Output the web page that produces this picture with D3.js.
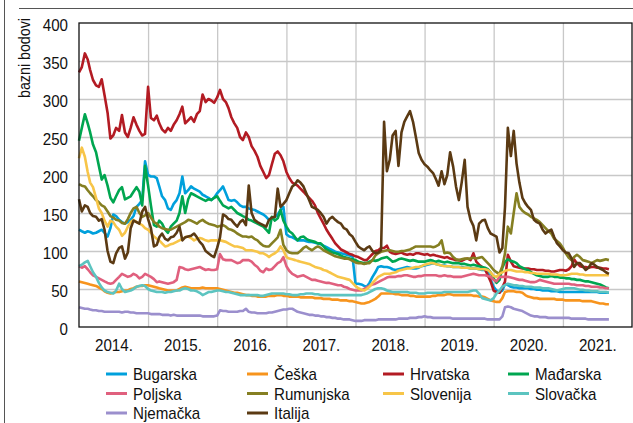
<!DOCTYPE HTML>
<html lang="hr">
<head>
<meta charset="UTF-8">
<title>Razlike prinosa - bazni bodovi</title>
<script src="https://d3js.org/d3.v7.min.js"></script>
<style>
    body { margin: 0; background: #fff; }
    text { font-family: "Liberation Sans", Arial, sans-serif; fill: #111; }
    .grid line { stroke: #c8c8c8; stroke-width: 1.3; }
    .grid path { display: none; }
    .series { fill: none; stroke-width: 2.6; stroke-linejoin: round; }
</style>
</head>
<body>
<svg width="633" height="423"></svg>
<script>
// country names (legend order)
var countries = ["Bugarska", "Češka", "Hrvatska", "Mađarska", "Poljska", "Rumunjska", "Slovenija", "Slovačka", "Njemačka", "Italija"];
var colors = ["#00a0dc", "#f7941d", "#b31b23", "#00a650", "#e0607e", "#857f22", "#f7c548", "#5cc4c0", "#9b8fcd", "#5b3a13"];
var yTicks = [0, 50, 100, 150, 200, 250, 300, 350, 400];
var yearLabels = [2014, 2015, 2016, 2017, 2018, 2019, 2020, 2021];

// observations on the 1st and 16th of every month, Jan 2014 - Aug 2021
var dates = d3.range(185).map(function(i) { return new Date(2014, Math.floor(i / 2), i % 2 ? 16 : 1); });

var bugarska = [128,126,124,126,125,123,124,126,128,124,119,130,
148,146,141,138,136,138,141,146,158,162,167,218,
200,198,198,196,185,172,167,156,154,162,167,176,
198,176,180,185,182,180,178,174,172,170,167,170,
176,180,185,176,167,166,167,164,160,158,158,156,
155,154,152,150,148,145,141,143,145,148,154,158,
122,119,118,116,114,114,114,113,112,112,111,110,
109,107,105,103,101,99,98,97,96,95,94,93,
57,57,56,54,53,58,66,72,79,80,79,79,
78,76,75,76,77,78,79,78,77,77,78,80,
81,82,83,84,83,82,81,81,80,80,79,79,
79,79,78,78,77,77,77,76,75,75,72,62,
53,48,46,48,57,55,53,52,52,51,51,51,
51,50,50,49,49,48,48,48,47,47,47,46,
46,46,46,46,46,46,46,46,46,46,46,46,
46,45,45,45,45];

var ceska = [60,59,58,57,56,55,54,52,50,47,45,44,
45,46,46,47,48,48,50,51,53,54,54,55,
55,54,53,52,51,50,49,48,48,48,48,50,
52,53,52,51,51,51,51,52,51,51,51,51,
51,50,49,48,47,46,45,45,44,43,42,42,
41,41,40,40,40,40,41,41,41,42,42,41,
41,40,40,40,40,39,39,39,39,39,38,38,
38,37,37,37,36,36,36,35,35,35,34,34,
33,32,31,31,32,33,35,37,40,44,44,44,
44,44,43,43,42,42,42,41,41,40,40,40,
40,40,40,41,41,42,42,42,43,43,42,42,
42,42,42,42,42,41,41,40,40,39,37,35,
34,33,33,38,46,47,47,47,46,46,45,42,
40,39,38,38,37,37,37,37,37,37,36,36,
36,35,35,35,35,35,35,34,34,34,34,33,
32,31,31,30,30];

var hrvatska = [335,342,360,352,338,325,318,316,326,305,282,248,
252,262,258,279,256,250,262,276,266,258,252,254,
316,275,272,278,268,260,256,262,258,266,272,280,
290,268,272,276,270,280,284,306,296,300,298,295,
302,312,300,296,288,276,268,262,250,246,256,250,
238,232,224,212,204,196,200,214,228,231,226,218,
204,196,190,188,186,182,178,174,170,166,160,150,
143,136,128,122,116,110,106,102,100,98,96,95,
93,92,90,88,88,92,96,100,101,104,104,107,
99,97,96,97,98,96,95,96,95,97,97,96,
95,96,94,95,94,93,92,91,92,90,89,88,
88,87,89,90,88,97,86,82,79,76,68,60,
48,46,45,52,60,95,86,80,79,78,77,77,
77,76,76,75,75,75,74,74,73,73,74,75,
75,74,76,80,89,84,80,79,79,78,79,79,
78,78,77,77,76];

var madarska = [245,262,280,268,256,240,230,212,194,200,186,170,
164,172,180,184,168,170,172,178,184,178,160,212,
186,160,134,132,140,136,128,124,132,136,140,150,
172,150,168,176,174,172,170,168,166,168,167,170,
172,166,160,158,156,158,154,150,148,146,144,141,
140,138,136,134,132,128,124,145,140,143,154,140,
132,126,123,118,114,118,119,116,114,113,112,110,
110,106,102,100,98,97,96,94,92,91,90,89,
88,86,85,84,84,86,88,87,88,90,91,92,
89,86,87,89,90,89,88,87,88,87,86,86,
86,87,88,87,86,87,86,85,86,85,84,84,
84,83,83,82,81,82,81,80,79,78,76,72,
64,58,62,78,86,89,87,86,84,80,78,76,
75,72,70,68,67,66,66,66,67,66,66,65,
65,64,64,63,63,62,62,61,60,60,59,58,
57,56,54,52,51];

var poljska = [80,78,80,76,72,68,66,64,62,60,58,57,
58,62,66,70,68,66,67,70,68,64,66,70,
68,66,63,59,60,59,58,57,58,59,62,79,
78,76,75,76,77,78,79,77,75,76,75,75,
76,96,89,88,88,88,86,84,85,88,88,88,
86,82,79,74,72,77,75,76,80,84,86,92,
80,74,70,68,66,67,68,66,64,62,62,61,
60,59,58,58,57,56,55,55,53,52,50,49,
48,48,48,50,52,54,56,57,59,61,63,65,
66,66,66,67,67,68,68,67,66,66,67,67,
68,68,68,68,68,67,67,68,67,67,66,66,
66,66,67,68,69,70,69,68,68,68,67,66,
62,60,66,66,66,66,65,64,63,62,62,61,
60,59,59,60,62,61,60,59,58,57,57,57,
57,57,57,56,56,55,55,55,54,54,53,53,
53,52,52,51,51];

var rumunjska = [188,186,185,180,176,172,167,164,160,158,152,146,
144,141,140,137,136,142,150,156,158,150,145,147,
150,144,138,136,132,130,129,128,128,130,132,134,
136,138,141,140,138,136,139,141,138,136,135,134,
132,133,134,132,129,128,126,123,121,119,119,118,
119,116,114,110,107,106,106,110,114,118,128,108,
101,98,97,97,97,100,104,106,103,101,104,106,
104,101,99,97,95,93,92,91,90,90,89,87,
85,84,84,83,84,84,88,94,97,99,100,101,
101,100,99,99,100,100,101,102,104,106,106,106,
106,106,106,105,106,108,114,97,98,97,92,89,
88,89,90,90,90,91,90,91,92,88,84,80,
75,72,70,80,97,132,123,150,176,158,153,150,
148,145,143,141,138,134,130,126,123,116,113,110,
104,97,91,88,92,95,92,88,87,86,84,86,
88,87,88,89,88];

var slovenija = [222,236,224,204,190,184,170,156,150,140,132,140,
138,132,128,120,124,132,138,141,138,136,134,130,
128,124,119,116,114,110,106,107,109,110,112,114,
116,118,119,117,114,116,117,116,114,113,114,114,
114,114,113,112,110,108,106,106,105,104,101,101,
101,100,99,97,97,95,92,95,97,100,106,101,
92,90,89,88,87,86,85,84,83,81,79,78,
77,75,74,72,70,68,66,65,64,63,62,58,
54,51,49,48,50,53,58,62,66,68,70,70,
70,71,72,74,75,76,77,77,78,79,79,80,
82,83,84,84,83,82,81,80,80,80,79,79,
79,78,78,78,77,77,77,76,76,76,75,72,
67,66,70,72,74,75,75,74,73,73,73,72,
72,71,71,70,70,70,70,70,69,69,69,68,
68,68,69,70,70,70,69,69,68,68,68,68,
68,68,68,68,68];

var slovacka = [80,82,85,87,80,72,66,58,52,48,46,45,
44,48,57,50,46,47,48,50,53,54,55,54,
50,48,47,46,46,46,45,46,46,47,48,48,
50,51,50,48,48,47,45,42,44,46,46,47,
48,48,47,46,46,45,44,43,42,42,42,42,
42,42,42,41,41,42,43,44,44,44,44,44,
43,43,42,42,42,43,43,44,44,44,43,43,
42,42,42,42,42,42,42,42,42,42,42,42,
42,42,42,43,44,46,48,50,51,51,50,48,
47,46,46,46,46,46,46,45,45,45,44,44,
44,45,45,45,45,45,45,46,46,46,46,46,
46,46,46,46,47,48,48,44,38,37,36,35,
38,44,48,53,55,57,56,55,55,54,54,53,
53,53,52,52,52,51,51,51,50,49,48,49,
50,51,51,51,51,50,49,49,48,48,47,47,
47,46,46,46,45];

var njemacka = [26,25,24,24,23,22,22,21,21,20,20,20,
20,20,20,19,20,20,19,19,18,18,18,18,
18,17,17,17,17,16,16,16,15,16,15,15,
15,15,15,15,15,15,15,14,14,14,14,14,
15,22,21,21,20,20,20,20,21,21,24,20,
19,19,18,18,18,18,19,19,20,21,22,23,
23,24,24,22,20,19,18,17,16,16,15,15,
14,14,13,13,12,12,11,11,10,10,10,9,
8,8,8,9,9,9,9,9,10,10,10,10,
10,10,10,11,11,11,11,12,12,12,13,13,
14,13,13,12,12,12,12,12,12,12,11,11,
11,11,11,11,11,11,11,11,11,11,10,10,
10,10,10,14,26,27,26,24,23,22,21,19,
17,15,14,14,13,13,13,12,12,12,12,12,
12,12,12,11,11,11,11,11,11,10,10,10,
10,10,10,10,10];

var italija = [168,152,160,158,150,146,145,140,142,128,100,86,
84,97,104,106,90,98,130,140,138,136,152,158,
142,130,106,108,118,123,116,114,118,119,124,132,
114,118,119,120,123,118,112,108,100,97,94,92,
104,118,148,146,142,141,136,132,138,141,134,186,
150,141,138,136,134,132,141,144,145,182,158,162,
167,176,185,188,193,190,185,176,167,158,156,154,
150,145,136,142,145,141,138,136,130,128,122,119,
112,106,103,101,104,106,100,97,98,101,270,205,
220,252,258,212,256,270,277,284,270,250,229,220,
214,211,206,202,195,186,205,188,200,230,211,185,
167,190,220,158,141,133,114,136,140,141,130,123,
121,119,98,104,158,262,225,258,215,190,170,163,
158,154,141,138,136,128,123,126,128,118,110,106,
101,98,97,90,79,84,84,80,75,78,84,82,
79,77,75,72,70];

var values = [bugarska, ceska, hrvatska, madarska, poljska, rumunjska, slovenija, slovacka, njemacka, italija];

var svg = d3.select("svg");
var plot = {left: 79, right: 632, top: 23, bottom: 327};

// the original uses a condensed typeface: squeeze the text horizontally
function condense(sel) {
    sel.each(function() {
        var w = this.getComputedTextLength();
        d3.select(this).attr("textLength", w * 0.89).attr("lengthAdjust", "spacingAndGlyphs");
    });
}

// outer page lines
svg.append("line").attr("x1", 4.5).attr("x2", 4.5).attr("y1", 0).attr("y2", 423)
    .attr("stroke", "#555").attr("stroke-width", 1);
svg.append("line").attr("x1", 19).attr("x2", 633).attr("y1", 8.5).attr("y2", 8.5)
    .attr("stroke", "#555").attr("stroke-width", 1);

var xScale = d3.scaleTime()
    .domain([new Date(2014, 0, 1), new Date(2022, 0, 1)])
    .range([plot.left, plot.right]);
var yScale = d3.scaleLinear()
    .domain([0, 400])
    .range([plot.bottom, plot.top]);

// vertical gridlines at year starts
svg.append("g")
    .attr("class", "grid")
    .attr("transform", "translate(0," + plot.bottom + ")")
    .call(d3.axisBottom(xScale)
        .tickValues(yearLabels.slice(1).map(function(y) { return new Date(y, 0, 1); }))
        .tickSize(-(plot.bottom - plot.top))
        .tickFormat(""));

// horizontal gridlines
svg.append("g")
    .attr("class", "grid")
    .attr("transform", "translate(" + plot.left + ",0)")
    .call(d3.axisLeft(yScale)
        .tickValues(yTicks.slice(1, -1))
        .tickSize(-(plot.right - plot.left))
        .tickFormat(""));

// lines
var line = d3.line()
    .x(function(d) { return xScale(d[0]); })
    .y(function(d) { return yScale(d[1]); });

svg.append("g").selectAll("path")
    .data(values)
    .enter().append("path")
    .attr("class", "series")
    .attr("stroke", function(d, i) { return colors[i]; })
    .attr("d", function(d) { return line(d.map(function(v, j) { return [dates[j], v]; })); });

// frame
svg.append("rect")
    .attr("x", plot.left).attr("y", plot.top)
    .attr("width", plot.right - plot.left).attr("height", plot.bottom - plot.top)
    .attr("fill", "none").attr("stroke", "#111").attr("stroke-width", 1.3);

// y axis labels
var yAxis = svg.append("g")
    .attr("transform", "translate(" + plot.left + ",0)")
    .call(d3.axisLeft(yScale).tickValues(yTicks).tickSize(0).tickPadding(11));
yAxis.select(".domain").remove();
yAxis.selectAll("text").attr("font-size", "17px").attr("dy", "0.42em").call(condense);

// x axis labels in the middle of each year
var xAxis = svg.append("g")
    .attr("transform", "translate(0," + plot.bottom + ")")
    .call(d3.axisBottom(xScale)
        .tickValues(yearLabels.map(function(y) { return new Date(y, 6, 2); }))
        .tickSize(0).tickPadding(12)
        .tickFormat(d3.timeFormat("%Y.")));
xAxis.select(".domain").remove();
xAxis.selectAll("text").attr("font-size", "17px").call(condense);

svg.append("text")
    .attr("transform", "translate(30,58) rotate(-90)")
    .attr("text-anchor", "middle")
    .attr("font-size", "16px")
    .text("bazni bodovi")
    .call(condense);

// legend, 4 columns
var colX = [106, 247, 383, 508];
var legend = svg.append("g").selectAll("g")
    .data(countries)
    .enter().append("g")
    .attr("transform", function(d, i) {
        return "translate(" + colX[i % 4] + "," + (380 + Math.floor(i / 4) * 19.5) + ")";
    });
legend.append("line")
    .attr("x1", 0).attr("x2", 21).attr("y1", -6).attr("y2", -6)
    .attr("stroke", function(d, i) { return colors[i]; })
    .attr("stroke-width", 3);
legend.append("text")
    .attr("x", 27)
    .attr("font-size", "17px")
    .text(function(d) { return d; })
    .call(condense);
</script>
</body>
</html>
